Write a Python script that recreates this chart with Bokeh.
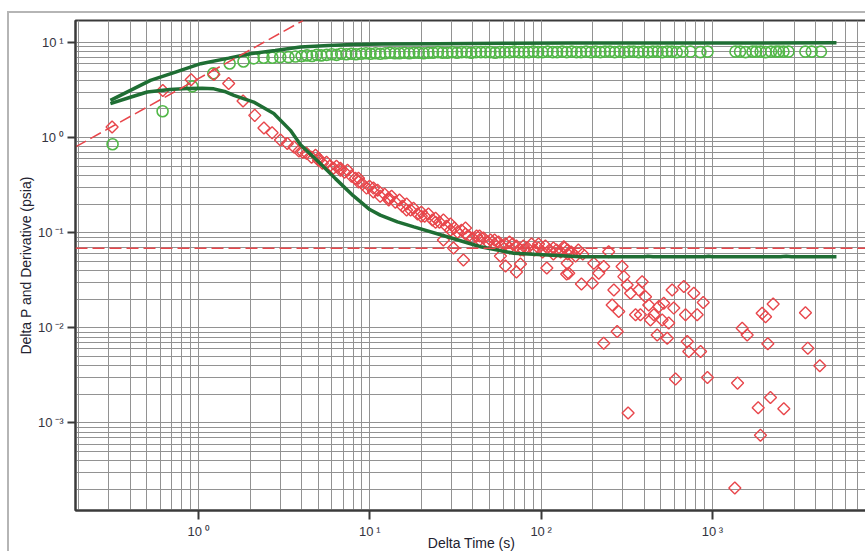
import math
from bokeh.plotting import figure
from bokeh.models import Range1d, CustomJSTickFormatter, Span
from bokeh.embed import file_html
from bokeh.resources import INLINE

# ---------------- data ----------------
# axis extents (seconds, psia)
x_start, x_end = 0.1914, 8044.0
y_start, y_end = 1.20e-4, 17.0

# pressure change data (light green circles)
dp_t = [0.315, 0.617, 0.92, 1.22, 1.52, 1.83, 2.1, 2.4, 2.7, 3.0,
        3.35, 3.68, 4.0, 4.3, 4.6, 4.9, 5.2, 5.6, 6.0, 6.4,
        6.8, 7.3, 7.8, 8.3, 8.9, 9.5, 10.1, 10.8, 11.5, 12.3,
        13.1, 14.0, 14.9, 15.9, 17.0, 18.1, 19.3, 20.6, 22.0, 23.4,
        25.0, 26.6, 28.4, 30.3, 32.3, 34.4, 36.7, 39.1, 41.7, 44.5,
        47.4, 50.6, 53.9, 57.5, 61.3, 65.4, 69.7, 74.3, 79.3, 84.5,
        90.1, 96.1, 102, 109, 117, 124, 133, 141, 151, 161,
        171, 183, 195, 208, 222, 236, 252, 269, 287, 306,
        326, 347, 370, 395, 421, 449, 479, 510, 544, 580,
        619, 669, 745, 851, 936, 1364, 1450, 1560, 1714, 1800,
        1911, 2050, 2200, 2350, 2450, 2600, 2780, 3490, 3800, 4300]
dp_v = [0.85, 1.89, 3.45, 4.73, 6.0, 6.3, 6.8, 6.9, 6.9, 7.0,
        7.0, 7.1, 7.2, 7.3, 7.2, 7.4, 7.3, 7.4, 7.5, 7.4,
        7.6, 7.5, 7.6, 7.5, 7.6, 7.7, 7.6, 7.7, 7.6, 7.7,
        7.8, 7.7, 7.7, 7.8, 7.7, 7.8, 7.8, 7.7, 7.8, 7.8,
        7.9, 7.8, 7.8, 7.9, 7.8, 7.9, 7.9, 7.8, 7.9, 7.9,
        7.9, 7.9, 7.8, 7.9, 7.9, 7.9, 8.0, 7.9, 7.9, 7.9,
        8.0, 7.9, 7.9, 8.0, 7.9, 7.9, 8.0, 7.9, 8.0, 7.9,
        7.9, 8.0, 7.9, 8.0, 7.9, 8.0, 8.0, 7.9, 8.0, 7.9,
        8.0, 8.0, 7.9, 8.0, 7.9, 8.0, 8.0, 7.9, 8.0, 8.0,
        7.9, 8.0, 8.0, 7.9, 8.0, 8.0, 8.0, 7.9, 8.0, 8.0,
        8.0, 7.9, 8.0, 8.0, 8.0, 8.0, 8.0, 8.0, 8.0, 8.0]

# pressure derivative data (red diamonds)
der_t = [0.313, 0.619, 0.906, 1.23, 1.50, 1.82, 2.13, 2.41, 2.69, 3.01,
         3.30, 3.61, 3.86, 4.05, 4.27, 4.57, 4.82, 5.02, 5.29, 5.59,
         5.82, 6.14, 6.39, 6.74, 7.12, 7.41, 7.82, 8.25, 8.59, 9.06,
         9.57, 9.96, 10.5, 11.1, 11.5, 12.2, 12.9, 13.4, 14.1, 14.9,
         15.5, 16.4, 17.3, 18.0, 19.0, 20.0, 20.9, 22.0, 23.2, 24.2,
         25.5, 26.9, 28.0, 29.6, 31.2, 32.5, 34.3, 36.2, 37.7, 39.8,
         42.0, 43.7, 46.1, 48.7, 50.7, 53.5, 56.4, 58.7, 62.0, 65.4,
         68.1, 71.8, 75.8, 78.9, 83.3, 87.9, 91.5, 96.6, 102, 106,
         112, 118, 123, 130, 137, 143, 150, 159, 165, 175,
         5.02, 6.74, 8.59, 10.5, 12.9, 16.4, 20.0, 24.2, 29.6, 36.2,
         43.7, 53.5, 65.4, 78.9, 96.6, 118, 143, 26.9, 30.8, 35.2,
         57.9, 62.0, 71.8, 75.8, 108, 141, 172, 135.7, 142, 145,
         199, 203, 217, 232, 232, 248, 260, 266, 278, 284,
         297, 304, 318, 333, 356, 372, 380, 389, 407, 425,
         435, 455, 476, 487, 509, 520, 545, 556, 582, 595,
         681, 697, 713, 728, 779, 815, 853, 884, 609, 936,
         1402, 1493, 1596, 1952, 2043, 2106, 2263, 3493, 3606, 4236,
         322, 1851, 2183, 2612, 1908, 1352]
der_v = [1.29, 3.13, 4.06, 4.61, 3.69, 2.42, 1.71, 1.26, 1.12, 0.94,
         0.865, 0.797, 0.724, 0.701, 0.684, 0.622, 0.652, 0.578, 0.538, 0.551,
         0.500, 0.476, 0.500, 0.454, 0.432, 0.454, 0.393, 0.374, 0.340, 0.324,
         0.294, 0.308, 0.267, 0.280, 0.242, 0.254, 0.231, 0.242, 0.209, 0.220,
         0.190, 0.200, 0.173, 0.181, 0.157, 0.164, 0.149, 0.157, 0.136, 0.142,
         0.129, 0.136, 0.117, 0.123, 0.112, 0.101, 0.106, 0.0967, 0.0921, 0.0878,
         0.0921, 0.0836, 0.0878, 0.0797, 0.0836, 0.0759, 0.0797, 0.0723, 0.0759, 0.0689,
         0.0759, 0.0723, 0.0657, 0.0723, 0.0689, 0.0759, 0.0657, 0.0689, 0.0626, 0.0723,
         0.0657, 0.0596, 0.0657, 0.0626, 0.0689, 0.0596, 0.0626, 0.0568, 0.0657, 0.0596,
         0.607, 0.476, 0.374, 0.294, 0.220, 0.173, 0.149, 0.129, 0.106, 0.112,
         0.0921, 0.0836, 0.0797, 0.0657, 0.0759, 0.0689, 0.0657, 0.0836, 0.0689, 0.0516,
         0.0568, 0.0446, 0.0386, 0.0468, 0.0425, 0.0368, 0.0289, 0.0711, 0.0476, 0.0374,
         0.0294, 0.0476, 0.0374, 0.0440, 0.00689, 0.0631, 0.0174, 0.0250, 0.00912, 0.0148,
         0.0440, 0.0345, 0.0282, 0.0231, 0.0137, 0.0250, 0.0137, 0.0305, 0.0212, 0.0174,
         0.0121, 0.0137, 0.00842, 0.0167, 0.0121, 0.0181, 0.00778, 0.0112, 0.0250, 0.0161,
         0.0271, 0.0137, 0.00716, 0.00562, 0.0231, 0.0137, 0.00562, 0.0184, 0.0029, 0.0030,
         0.00262, 0.00991, 0.00842, 0.0142, 0.0131, 0.00678, 0.0178, 0.0144, 0.00611, 0.00398,
         0.00127, 0.00144, 0.00185, 0.00141, 0.00074, 0.000207]

# model pressure change (upper dark green curve)
mp_t = [0.306, 0.524, 0.734, 1.03, 1.5, 2.0, 2.8, 3.94, 5.75, 8.0,
        12, 25, 60, 150, 5300]
mp_v = [2.46, 3.99, 4.88, 5.98, 6.84, 7.61, 8.22, 8.93, 9.30, 9.5,
        9.6, 9.7, 9.8, 9.85, 9.9]

# model derivative (lower dark green curve)
md_t = [0.306, 0.40, 0.502, 0.68, 0.859, 1.05, 1.23, 1.42, 1.61, 2.10,
        2.75, 3.44, 3.94, 5.0, 6.3, 8.0, 10.0, 11.5, 14.5, 18.1,
        28.3, 44.3, 69.3, 109, 170, 400, 420, 450, 900, 950,
        1000, 2500, 2700, 2900, 5300]
md_v = [2.27, 2.65, 3.01, 3.20, 3.27, 3.29, 3.25, 3.05, 2.78, 2.36,
        1.79, 1.19, 0.84, 0.56, 0.37, 0.245, 0.175, 0.153, 0.13, 0.115,
        0.0906, 0.0711, 0.0607, 0.0582, 0.0558, 0.0558, 0.0565, 0.0558, 0.0558, 0.0566,
        0.0558, 0.0558, 0.0565, 0.0558, 0.0558]

# reference lines
unit_slope_coef = 4.17      # wellbore storage line: dP' = coef * t
radial_flow_level = 0.0684  # infinite-acting radial flow stabilisation

# ---------------- styles ----------------
DARK_GREEN = "#1f6e34"
LIGHT_GREEN = "#52b848"
RED = "#e8464b"
GRID = "#929292"
AXIS = "#3a3a3a"
FONT = "Liberation Sans"

p = figure(width=858, height=540, x_axis_type="log", y_axis_type="log",
           x_range=Range1d(x_start, x_end), y_range=Range1d(y_start, y_end),
           output_backend="svg", toolbar_location=None,
           min_border_left=66, min_border_right=0, min_border_top=7, min_border_bottom=0,
           background_fill_color="white", border_fill_color="white")
p.margin = (11, 0, 0, 7)
p.styles = {"border-top": "2px solid #b5b5b5", "border-left": "2px solid #b5b5b5"}
p.outline_line_color = AXIS
p.outline_line_width = 2

for g in (p.xgrid, p.ygrid):
    g.grid_line_color = GRID
    g.grid_line_width = 1
    g.minor_grid_line_color = GRID
    g.minor_grid_line_width = 1

fmt = CustomJSTickFormatter(code=r"""
const e = Math.round(Math.log10(tick));
const m = {"-":"\u207b","0":"\u2070","1":"\u00b9","2":"\u00b2","3":"\u00b3","4":"\u2074",
           "5":"\u2075","6":"\u2076","7":"\u2077","8":"\u2078","9":"\u2079"};
let s = "";
for (const c of String(e)) s += m[c];
return "10\u2009" + s;
""")

for ax in (p.xaxis[0], p.yaxis[0]):
    ax.formatter = fmt
    ax.axis_line_color = AXIS
    ax.axis_line_width = 2
    ax.major_tick_line_color = AXIS
    ax.major_tick_line_width = 2
    ax.major_tick_in = 0
    ax.minor_tick_line_color = None
    ax.major_label_text_font = FONT
    ax.major_label_text_font_size = "13px"
    ax.major_label_text_color = "#333340"
    ax.axis_label_text_font = FONT
    ax.axis_label_text_font_size = "14px"
    ax.axis_label_text_font_style = "normal"
    ax.axis_label_text_color = "#222230"

p.xaxis.axis_label = "Delta Time (s)"
p.yaxis.axis_label = "Delta P and Derivative (psia)"
p.xaxis.major_tick_out = 9
p.xaxis.major_label_standoff = 4
p.xaxis.axis_label_standoff = -7
p.yaxis.major_tick_out = 8
p.yaxis.major_label_standoff = 4
p.yaxis.axis_label_standoff = 1

# data
p.scatter(dp_t, dp_v, marker="circle", size=11, fill_color=None,
          line_color=LIGHT_GREEN, line_width=1.6)
p.scatter(der_t, der_v, marker="square", angle=math.pi / 4, size=8.5, fill_color=None,
          line_color=RED, line_width=1.4)
p.line(mp_t, mp_v, line_color=DARK_GREEN, line_width=3.5)
p.line(md_t, md_v, line_color=DARK_GREEN, line_width=3.5)

# reference lines
slope_x = [x_start, y_end / unit_slope_coef]
p.line(slope_x, [unit_slope_coef * v for v in slope_x], line_color=RED,
       line_width=1.5, line_dash="12 5")
p.add_layout(Span(location=radial_flow_level, dimension="width", line_color=RED,
                  line_width=1.5, line_dash="12 5"))

open("out.html", "w", encoding="utf-8").write(file_html(p, INLINE))
